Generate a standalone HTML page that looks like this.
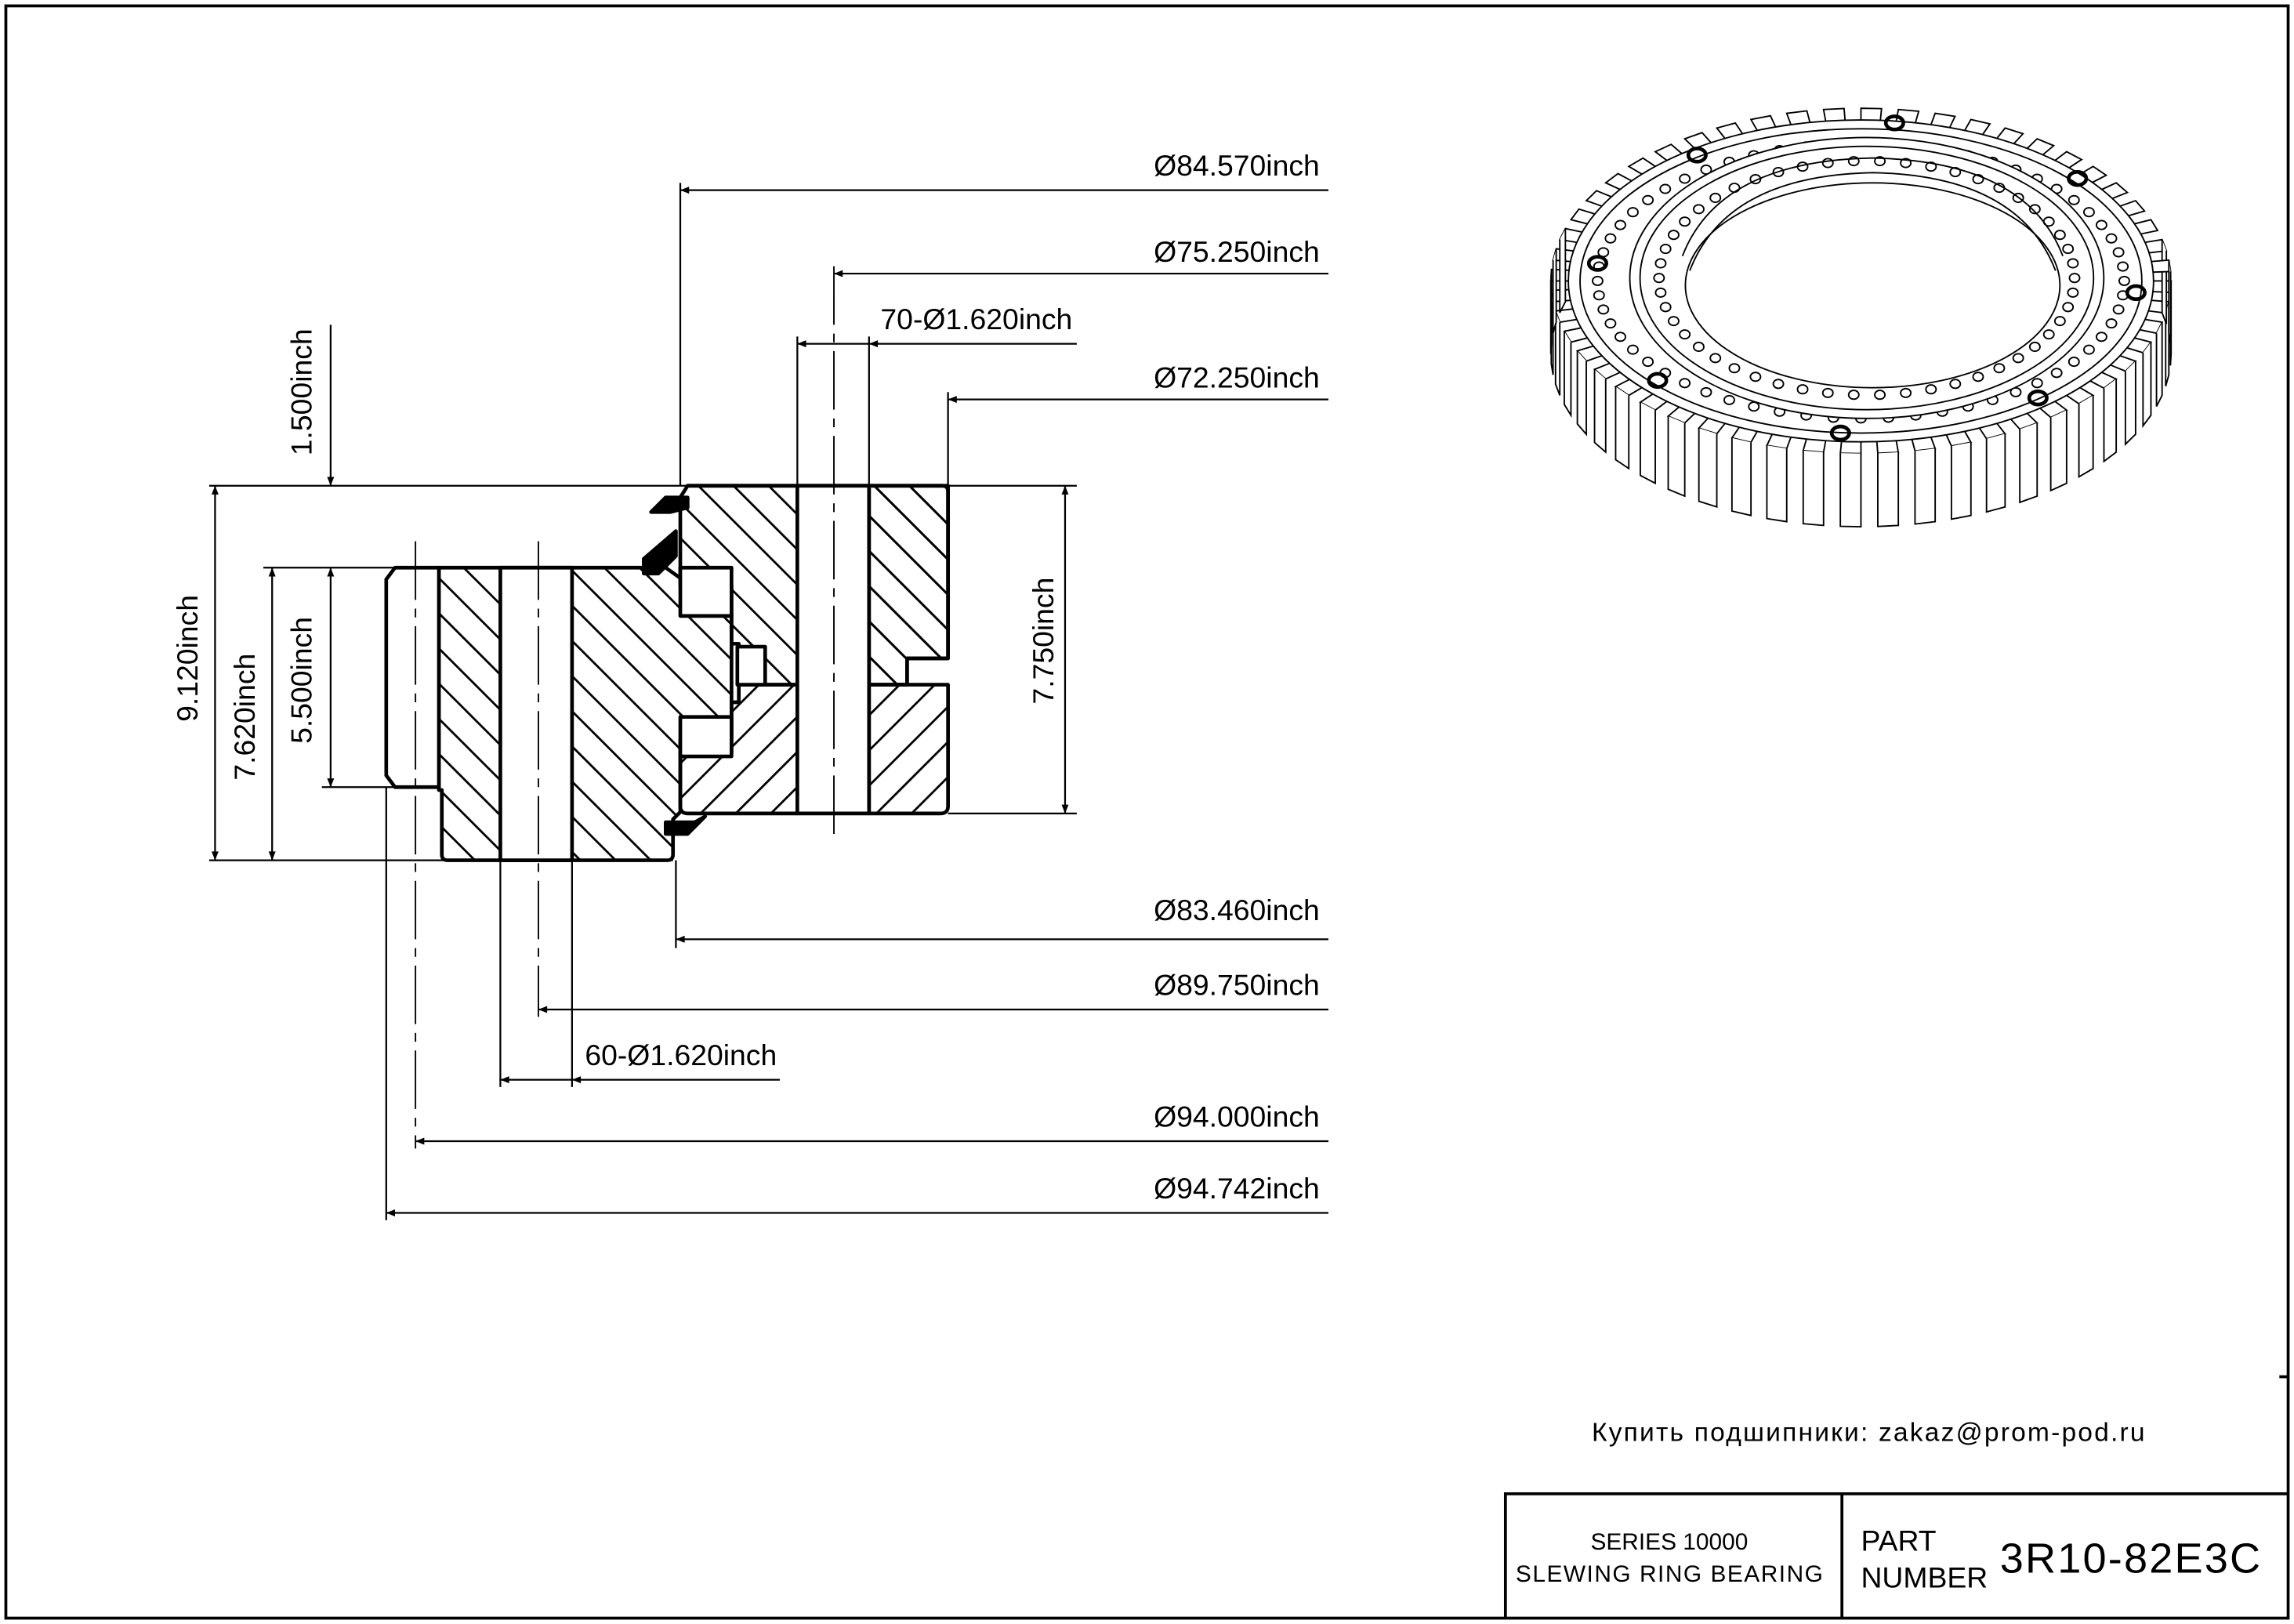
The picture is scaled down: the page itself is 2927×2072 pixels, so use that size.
<!DOCTYPE html>
<html><head><meta charset="utf-8"><style>
html,body{margin:0;padding:0;background:#fff}
svg{display:block}
text{font-family:"Liberation Sans","DejaVu Sans",sans-serif;fill:#000}
</style></head><body>
<svg id="s" xmlns="http://www.w3.org/2000/svg" width="2927" height="2072" viewBox="0 0 1568 1110" preserveAspectRatio="none">
<defs>
<pattern id="hb" patternUnits="userSpaceOnUse" width="17" height="17" patternTransform="rotate(-45)"><line x1="0" y1="0" x2="0" y2="17" stroke="#000" stroke-width="3"/></pattern>
<pattern id="hf" patternUnits="userSpaceOnUse" width="17" height="17" patternTransform="rotate(45)"><line x1="0" y1="0" x2="0" y2="17" stroke="#000" stroke-width="3"/></pattern>
<marker id="a" viewBox="0 0 10 10" refX="10" refY="5" markerWidth="12" markerHeight="6" orient="auto-start-reverse" markerUnits="userSpaceOnUse"><path d="M0,1 L10,5 L0,9z" fill="#000"/></marker>
</defs>
<rect x="4" y="4" width="1560" height="1102" fill="none" stroke="#000" stroke-width="2"/>
<path d="M1029,1106 V1021 H1564 M1259,1021 V1106" fill="none" stroke="#000" stroke-width="2"/>
<line x1="1558" y1="941" x2="1564" y2="941" stroke="#000" stroke-width="2"/>
<text x="1141" y="1059" font-size="16" text-anchor="middle">SERIES 10000</text>
<text x="1141" y="1081" font-size="16" text-anchor="middle" textLength="210">SLEWING RING BEARING</text>
<text x="1272" y="1060" font-size="20">PART</text>
<text x="1272" y="1085" font-size="20">NUMBER</text>
<text x="1367" y="1075" font-size="29" textLength="178">3R10-82E3C</text>
<text x="1088" y="985" font-size="18" textLength="378">Купить подшипники: zakaz@prom-pod.ru</text>

<g stroke="#000" stroke-width="2.5" stroke-linejoin="round">
<path d="M470,332 H644 Q648,332 648,336 V450 H620 V468 H545 V332 Z" fill="url(#hb)"/>
<path d="M470,332 H545 V468 H505 V440 H500 V400 H465 V340 Z" fill="url(#hb)"/>
<path d="M505,468 H545 V556 H470 Q465,556 465,551 V515 H500 V480 H505 Z" fill="url(#hf)"/>
<path d="M594,468 H648 V551 Q648,556 643,556 H594 Z" fill="url(#hf)"/>
<path d="M594,332 H648 V450 H620 V468 H594 Z" fill="url(#hb)"/>
<rect x="545" y="332" width="49" height="224" fill="#fff"/>
<path d="M300,388 H455 L500,420 V505 H465 V555 L460,560 V584 Q460,588 456,588 H306 Q302,588 302,584 V540 H300 Z" fill="url(#hb)"/>
<rect x="342" y="388" width="49" height="200" fill="#fff"/>
<path d="M270,388 H300 V538 H270 L264,530 V396 Z" fill="#fff"/>
<rect x="465" y="388" width="35" height="33" fill="#fff"/>
<rect x="465" y="490" width="35" height="27" fill="#fff"/>
<rect x="504" y="442" width="19" height="26" fill="#fff"/>
<path d="M445,350 L455,340 H470 V347 L458,350 Z M440,392 V382 L462,363 V380 L450,392 Z M455,562 H475 L482,558 L470,570 H455 Z" fill="#000"/>
</g>
<g stroke="#000" stroke-width="1" stroke-dasharray="40,6,6,6">
<line x1="570" y1="182" x2="570" y2="570"/>
<line x1="368" y1="370" x2="368" y2="695"/>
<line x1="284" y1="370" x2="284" y2="785"/>
</g>
<g stroke="#000" stroke-width="1.2" fill="none">
<line x1="465" y1="125" x2="465" y2="332"/>
<line x1="545" y1="230" x2="545" y2="332"/>
<line x1="594" y1="230" x2="594" y2="332"/>
<line x1="648" y1="268" x2="648" y2="332"/>
<line x1="143" y1="332" x2="736" y2="332"/>
<line x1="180" y1="388" x2="300" y2="388"/>
<line x1="220" y1="538" x2="300" y2="538"/>
<line x1="143" y1="588" x2="460" y2="588"/>
<line x1="648" y1="556" x2="736" y2="556"/>
<line x1="462" y1="588" x2="462" y2="648"/>
<line x1="342" y1="588" x2="342" y2="743"/>
<line x1="391" y1="588" x2="391" y2="743"/>
<line x1="264" y1="538" x2="264" y2="834"/>
<line x1="908" y1="130" x2="465" y2="130" marker-end="url(#a)"/>
<line x1="908" y1="187" x2="570" y2="187" marker-end="url(#a)"/>
<line x1="736" y1="235" x2="594" y2="235" marker-end="url(#a)"/>
<line x1="594" y1="235" x2="545" y2="235" marker-end="url(#a)"/>
<line x1="908" y1="273" x2="648" y2="273" marker-end="url(#a)"/>
<line x1="226" y1="222" x2="226" y2="332" marker-end="url(#a)"/>
<line x1="147" y1="332" x2="147" y2="588" marker-start="url(#a)" marker-end="url(#a)"/>
<line x1="186" y1="388" x2="186" y2="588" marker-start="url(#a)" marker-end="url(#a)"/>
<line x1="226" y1="388" x2="226" y2="538" marker-start="url(#a)" marker-end="url(#a)"/>
<line x1="728" y1="332" x2="728" y2="556" marker-start="url(#a)" marker-end="url(#a)"/>
<line x1="908" y1="642" x2="462" y2="642" marker-end="url(#a)"/>
<line x1="908" y1="690" x2="368" y2="690" marker-end="url(#a)"/>
<line x1="533" y1="738" x2="391" y2="738" marker-end="url(#a)"/>
<line x1="391" y1="738" x2="342" y2="738" marker-end="url(#a)"/>
<line x1="908" y1="780" x2="284" y2="780" marker-end="url(#a)"/>
<line x1="908" y1="829" x2="264" y2="829" marker-end="url(#a)"/>
</g>
<g font-size="20">
<text x="902" y="120" text-anchor="end">Ø84.570inch</text>
<text x="902" y="179" text-anchor="end">Ø75.250inch</text>
<text x="733" y="225" text-anchor="end">70-Ø1.620inch</text>
<text x="902" y="265" text-anchor="end">Ø72.250inch</text>
<text x="902" y="629" text-anchor="end">Ø83.460inch</text>
<text x="902" y="680" text-anchor="end">Ø89.750inch</text>
<text x="531" y="728" text-anchor="end">60-Ø1.620inch</text>
<text x="902" y="770" text-anchor="end">Ø94.000inch</text>
<text x="902" y="819" text-anchor="end">Ø94.742inch</text>
<text transform="translate(213,268) rotate(-90)" text-anchor="middle">1.500inch</text>
<text transform="translate(135,450) rotate(-90)" text-anchor="middle">9.120inch</text>
<text transform="translate(174,490) rotate(-90)" text-anchor="middle">7.620inch</text>
<text transform="translate(213,465) rotate(-90)" text-anchor="middle">5.500inch</text>
<text transform="translate(720,438) rotate(-90)" text-anchor="middle">7.750inch</text>
</g>
<g id="b3" stroke="#000" fill="none" stroke-width="1"></g>
</svg>
<script>
(function(){
var g=document.getElementById('b3'),h='';
var cx=1272,cy=192,rx=212,ry=118,dep=50,n=52;
for(var i=0;i<n;i++){var t=i/n*2*Math.PI,t2=(i+0.55)/n*2*Math.PI;
 var x1=cx+rx*Math.cos(t),y1=cy+ry*Math.sin(t),x2=cx+rx*Math.cos(t2),y2=cy+ry*Math.sin(t2);
 var xo=cx+(rx-12)*Math.cos(t),yo=cy+(ry-8)*Math.sin(t),xo2=cx+(rx-12)*Math.cos(t2),yo2=cy+(ry-8)*Math.sin(t2);
 h+='<path d="M'+xo+','+yo+' L'+x1+','+y1+' L'+x2+','+y2+' L'+xo2+','+yo2+'" fill="#fff"/>';
 if(Math.sin(t)>-0.3){h+='<path d="M'+x1+','+y1+' V'+(y1+dep)+' L'+x2+','+(y2+dep)+' V'+y2+'" fill="#fff"/>';}
}
h+='<ellipse cx="'+cx+'" cy="'+cy+'" rx="'+(rx-12)+'" ry="'+(ry-8)+'" fill="#fff"/>';
h+='<ellipse cx="'+cx+'" cy="'+cy+'" rx="'+(rx-20)+'" ry="'+(ry-14)+'"/>';
for(var i=0;i<60;i++){var t=i/60*2*Math.PI;h+='<ellipse cx="'+(cx+(rx-32)*Math.cos(t))+'" cy="'+(cy+(ry-24)*Math.sin(t))+'" rx="3.5" ry="3"/>';}
h+='<ellipse cx="1276" cy="190" rx="162" ry="96" fill="#fff"/>';
h+='<ellipse cx="1276" cy="190" rx="155" ry="90"/>';
for(var i=0;i<50;i++){var t=i/50*2*Math.PI;h+='<ellipse cx="'+(1276+142*Math.cos(t))+'" cy="'+(190+80*Math.sin(t))+'" rx="3.5" ry="3"/>';}
h+='<ellipse cx="1280" cy="195" rx="128" ry="70"/>';
h+='<path d="M1155,185 Q1180,120 1280,118 Q1380,120 1405,185"/>';
h+='<path d="M1150,175 Q1175,110 1280,108 Q1385,110 1410,175"/>';
var blk=[[1160,106],[1295,84],[1420,122],[1092,180],[1460,200],[1133,260],[1258,296],[1393,272]];
blk.forEach(function(p){h+='<ellipse cx="'+p[0]+'" cy="'+p[1]+'" rx="6" ry="4.5" stroke-width="2.5"/>';});
g.innerHTML=h;
})();
</script>
</body></html>
